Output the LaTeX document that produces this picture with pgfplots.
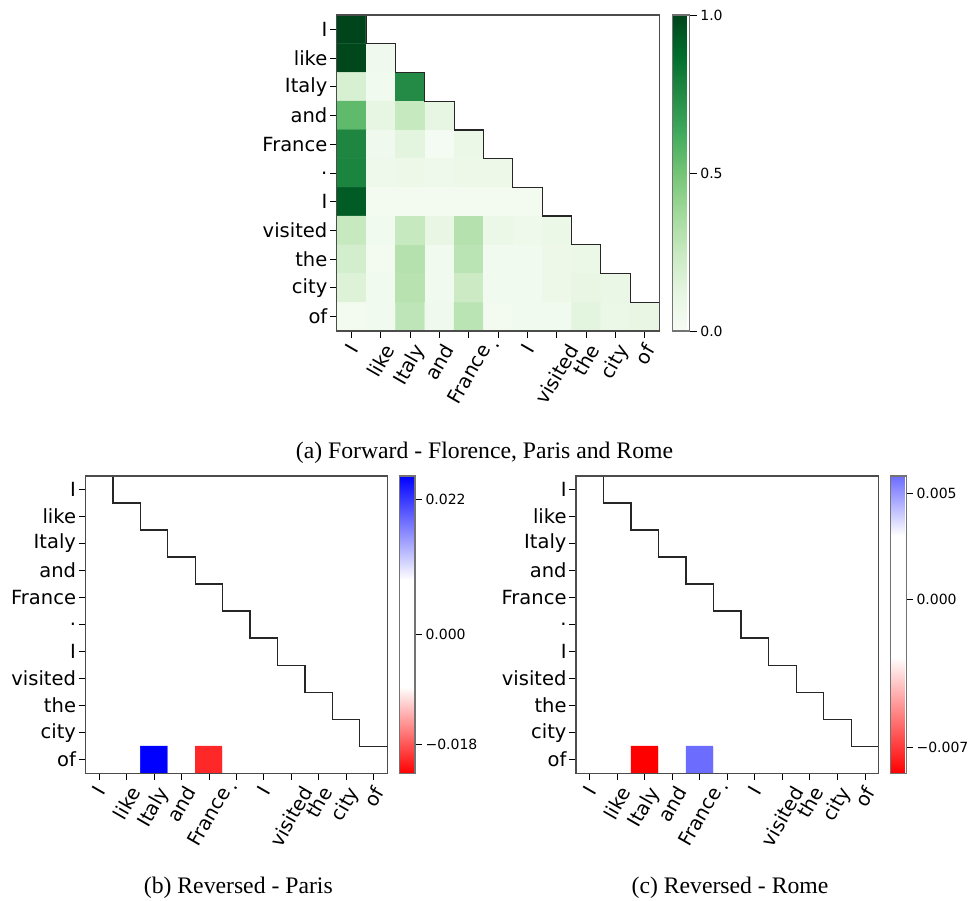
\documentclass[border=0pt]{standalone}
\usepackage{graphicx}
\usepackage{fontspec}
\setmainfont{DejaVu Sans}
\newfontfamily\capfont{Liberation Serif}
\usepackage{pgfplots}
\usepackage{pgfplotstable}
\pgfplotsset{compat=1.18}
\newcommand{\cbf}{\fontsize{14}{16}\selectfont}

\pgfplotstableread[row sep=\\]{
x y v\\
0 0 1.00\\ 1 0 0\\ 2 0 0\\ 3 0 0\\ 4 0 0\\ 5 0 0\\ 6 0 0\\ 7 0 0\\ 8 0 0\\ 9 0 0\\ 10 0 0\\
0 1 0.99\\ 1 1 0.05\\ 2 1 0\\ 3 1 0\\ 4 1 0\\ 5 1 0\\ 6 1 0\\ 7 1 0\\ 8 1 0\\ 9 1 0\\ 10 1 0\\
0 2 0.18\\ 1 2 0.04\\ 2 2 0.75\\ 3 2 0\\ 4 2 0\\ 5 2 0\\ 6 2 0\\ 7 2 0\\ 8 2 0\\ 9 2 0\\ 10 2 0\\
0 3 0.55\\ 1 3 0.11\\ 2 3 0.25\\ 3 3 0.11\\ 4 3 0\\ 5 3 0\\ 6 3 0\\ 7 3 0\\ 8 3 0\\ 9 3 0\\ 10 3 0\\
0 4 0.77\\ 1 4 0.05\\ 2 4 0.13\\ 3 4 0.02\\ 4 4 0.08\\ 5 4 0\\ 6 4 0\\ 7 4 0\\ 8 4 0\\ 9 4 0\\ 10 4 0\\
0 5 0.78\\ 1 5 0.06\\ 2 5 0.07\\ 3 5 0.06\\ 4 5 0.07\\ 5 5 0.07\\ 6 5 0\\ 7 5 0\\ 8 5 0\\ 9 5 0\\ 10 5 0\\
0 6 0.93\\ 1 6 0.03\\ 2 6 0.03\\ 3 6 0.03\\ 4 6 0.03\\ 5 6 0.03\\ 6 6 0.03\\ 7 6 0\\ 8 6 0\\ 9 6 0\\ 10 6 0\\
0 7 0.25\\ 1 7 0.04\\ 2 7 0.25\\ 3 7 0.10\\ 4 7 0.31\\ 5 7 0.08\\ 6 7 0.06\\ 7 7 0.08\\ 8 7 0\\ 9 7 0\\ 10 7 0\\
0 8 0.20\\ 1 8 0.03\\ 2 8 0.31\\ 3 8 0.04\\ 4 8 0.29\\ 5 8 0.04\\ 6 8 0.04\\ 7 8 0.07\\ 8 8 0.08\\ 9 8 0\\ 10 8 0\\
0 9 0.16\\ 1 9 0.04\\ 2 9 0.30\\ 3 9 0.04\\ 4 9 0.23\\ 5 9 0.04\\ 6 9 0.04\\ 7 9 0.07\\ 8 9 0.10\\ 9 9 0.09\\ 10 9 0\\
0 10 0.03\\ 1 10 0.04\\ 2 10 0.28\\ 3 10 0.05\\ 4 10 0.29\\ 5 10 0.03\\ 6 10 0.04\\ 7 10 0.04\\ 8 10 0.13\\ 9 10 0.08\\ 10 10 0.10\\
}\fwd

\pgfplotstableread[row sep=\\]{
x y v\\
0 0 0\\ 1 0 0\\ 2 0 0\\ 3 0 0\\ 4 0 0\\ 5 0 0\\ 6 0 0\\ 7 0 0\\ 8 0 0\\ 9 0 0\\ 10 0 0\\
0 1 0\\ 1 1 0\\ 2 1 0\\ 3 1 0\\ 4 1 0\\ 5 1 0\\ 6 1 0\\ 7 1 0\\ 8 1 0\\ 9 1 0\\ 10 1 0\\
0 2 0\\ 1 2 0\\ 2 2 0\\ 3 2 0\\ 4 2 0\\ 5 2 0\\ 6 2 0\\ 7 2 0\\ 8 2 0\\ 9 2 0\\ 10 2 0\\
0 3 0\\ 1 3 0\\ 2 3 0\\ 3 3 0\\ 4 3 0\\ 5 3 0\\ 6 3 0\\ 7 3 0\\ 8 3 0\\ 9 3 0\\ 10 3 0\\
0 4 0\\ 1 4 0\\ 2 4 0\\ 3 4 0\\ 4 4 0\\ 5 4 0\\ 6 4 0\\ 7 4 0\\ 8 4 0\\ 9 4 0\\ 10 4 0\\
0 5 0\\ 1 5 0\\ 2 5 0\\ 3 5 0\\ 4 5 0\\ 5 5 0\\ 6 5 0\\ 7 5 0\\ 8 5 0\\ 9 5 0\\ 10 5 0\\
0 6 0\\ 1 6 0\\ 2 6 0\\ 3 6 0\\ 4 6 0\\ 5 6 0\\ 6 6 0\\ 7 6 0\\ 8 6 0\\ 9 6 0\\ 10 6 0\\
0 7 0\\ 1 7 0\\ 2 7 0\\ 3 7 0\\ 4 7 0\\ 5 7 0\\ 6 7 0\\ 7 7 0\\ 8 7 0\\ 9 7 0\\ 10 7 0\\
0 8 0\\ 1 8 0\\ 2 8 0\\ 3 8 0\\ 4 8 0\\ 5 8 0\\ 6 8 0\\ 7 8 0\\ 8 8 0\\ 9 8 0\\ 10 8 0\\
0 9 0\\ 1 9 0\\ 2 9 0\\ 3 9 0\\ 4 9 0\\ 5 9 0\\ 6 9 0\\ 7 9 0\\ 8 9 0\\ 9 9 0\\ 10 9 0\\
0 10 0\\ 1 10 0\\ 2 10 0.0258\\ 3 10 0\\ 4 10 -0.0205\\ 5 10 0\\ 6 10 0\\ 7 10 0\\ 8 10 0\\ 9 10 0\\ 10 10 0\\
}\paris

\pgfplotstableread[row sep=\\]{
x y v\\
0 0 0\\ 1 0 0\\ 2 0 0\\ 3 0 0\\ 4 0 0\\ 5 0 0\\ 6 0 0\\ 7 0 0\\ 8 0 0\\ 9 0 0\\ 10 0 0\\
0 1 0\\ 1 1 0\\ 2 1 0\\ 3 1 0\\ 4 1 0\\ 5 1 0\\ 6 1 0\\ 7 1 0\\ 8 1 0\\ 9 1 0\\ 10 1 0\\
0 2 0\\ 1 2 0\\ 2 2 0\\ 3 2 0\\ 4 2 0\\ 5 2 0\\ 6 2 0\\ 7 2 0\\ 8 2 0\\ 9 2 0\\ 10 2 0\\
0 3 0\\ 1 3 0\\ 2 3 0\\ 3 3 0\\ 4 3 0\\ 5 3 0\\ 6 3 0\\ 7 3 0\\ 8 3 0\\ 9 3 0\\ 10 3 0\\
0 4 0\\ 1 4 0\\ 2 4 0\\ 3 4 0\\ 4 4 0\\ 5 4 0\\ 6 4 0\\ 7 4 0\\ 8 4 0\\ 9 4 0\\ 10 4 0\\
0 5 0\\ 1 5 0\\ 2 5 0\\ 3 5 0\\ 4 5 0\\ 5 5 0\\ 6 5 0\\ 7 5 0\\ 8 5 0\\ 9 5 0\\ 10 5 0\\
0 6 0\\ 1 6 0\\ 2 6 0\\ 3 6 0\\ 4 6 0\\ 5 6 0\\ 6 6 0\\ 7 6 0\\ 8 6 0\\ 9 6 0\\ 10 6 0\\
0 7 0\\ 1 7 0\\ 2 7 0\\ 3 7 0\\ 4 7 0\\ 5 7 0\\ 6 7 0\\ 7 7 0\\ 8 7 0\\ 9 7 0\\ 10 7 0\\
0 8 0\\ 1 8 0\\ 2 8 0\\ 3 8 0\\ 4 8 0\\ 5 8 0\\ 6 8 0\\ 7 8 0\\ 8 8 0\\ 9 8 0\\ 10 8 0\\
0 9 0\\ 1 9 0\\ 2 9 0\\ 3 9 0\\ 4 9 0\\ 5 9 0\\ 6 9 0\\ 7 9 0\\ 8 9 0\\ 9 9 0\\ 10 9 0\\
0 10 0\\ 1 10 0\\ 2 10 -0.0082\\ 3 10 0\\ 4 10 0.0058\\ 5 10 0\\ 6 10 0\\ 7 10 0\\ 8 10 0\\ 9 10 0\\ 10 10 0\\
}\rome

\pgfplotsset{
  hm/.style={
    scale only axis,
    enlargelimits=false,
    xmin=-0.5, xmax=10.5, ymin=-0.5, ymax=10.5,
    y dir=reverse,
    axis on top,
    axis line style={line width=1.1pt, draw=black!70},
    tick style={black, line width=0.9pt},
    major tick length=6.8pt,
    tick align=outside,
    xtick pos=bottom, ytick pos=left,
    xtick={0,...,10}, ytick={0,...,10},
    tick label style={font=\fontsize{19.5}{23}\selectfont},
    yticklabels={I,like,Italy,and,France,.,I,visited,the,city,of},
    xticklabels={\rotatebox{60}{I},\rotatebox{60}{like},\rotatebox{60}{Italy},\rotatebox{60}{and},\rotatebox{60}{France},\rotatebox{60}{.},\rotatebox{60}{I},\rotatebox{60}{visited},\rotatebox{60}{the},\rotatebox{60}{city},\rotatebox{60}{of}},
    xticklabel style={anchor=north, inner sep=0pt, yshift=-4.5pt},
    yticklabel style={anchor=east, inner sep=0pt, xshift=-2.5pt},
    colorbar,
  },
  cbar/.style={
    at={(parent axis.north east)}, anchor=north west,
    scale only axis,
    scaled y ticks=false,
    axis line style={line width=1.1pt, draw=black!55},
    tick style={black, line width=0.9pt},
    major tick length=6.8pt,
    tick align=outside,
    ytick pos=right,
    yticklabel pos=right,
    yticklabel style={anchor=west, inner sep=0pt, xshift=3.5pt},
  },
  stair/.style={black!85, line width=1.25pt, forget plot},
}

\begin{document}
\begin{tikzpicture}
\path[use as bounding box] (0pt,0pt) rectangle (968pt,901pt);

% (a)
\begin{axis}[hm,
  at={(336.8pt,886pt)}, anchor=north west,
  width=322.7pt, height=316pt,
  colormap={greens}{rgb255=(247,252,245) rgb255=(229,245,224) rgb255=(199,233,192) rgb255=(161,217,155) rgb255=(116,196,118) rgb255=(65,171,93) rgb255=(35,139,69) rgb255=(0,109,44) rgb255=(0,68,27)},
  point meta min=0, point meta max=1,
  colorbar style={cbar, xshift=4.5pt, width=17.3pt, height=316pt,
    ytick={0,0.5,1}, yticklabels={{\cbf 0.0},{\cbf 0.5},{\cbf 1.0}}},
]
\addplot[matrix plot*, mesh/cols=11, point meta=explicit] table[x=x, y=y, meta=v] {\fwd};
\addplot[fill=white, draw=none, forget plot] coordinates {(0.5,-0.5) (0.5,0.5) (1.5,0.5) (1.5,1.5) (2.5,1.5) (2.5,2.5) (3.5,2.5) (3.5,3.5) (4.5,3.5) (4.5,4.5) (5.5,4.5) (5.5,5.5) (6.5,5.5) (6.5,6.5) (7.5,6.5) (7.5,7.5) (8.5,7.5) (8.5,8.5) (9.5,8.5) (9.5,9.5) (10.5,9.5) (10.5,-0.5)};
\addplot[stair] coordinates {(0.5,-0.5) (0.5,0.5) (1.5,0.5) (1.5,1.5) (2.5,1.5) (2.5,2.5) (3.5,2.5) (3.5,3.5) (4.5,3.5) (4.5,4.5) (5.5,4.5) (5.5,5.5) (6.5,5.5) (6.5,6.5) (7.5,6.5) (7.5,7.5) (8.5,7.5) (8.5,8.5) (9.5,8.5) (9.5,9.5) (10.5,9.5)};
\end{axis}

% (b)
\begin{axis}[hm,
  at={(85.5pt,425pt)}, anchor=north west,
  width=301.8pt, height=297.2pt,
  colormap={parisbwr}{rgb255(0cm)=(255,0,0) rgb255(29cm)=(255,255,255) rgb255(65cm)=(255,255,255) rgb255(100cm)=(0,0,255)},
  point meta min=-0.0227, point meta max=0.0258,
  colorbar style={cbar, xshift=3.4pt, width=15.8pt, height=297.2pt,
    ytick={-0.018,0,0.022}, yticklabels={{\cbf −0.018},{\cbf 0.000},{\cbf 0.022}}},
]
\addplot[matrix plot*, mesh/cols=11, point meta=explicit] table[x=x, y=y, meta=v] {\paris};
\addplot[stair] coordinates {(0.5,-0.5) (0.5,0.5) (1.5,0.5) (1.5,1.5) (2.5,1.5) (2.5,2.5) (3.5,2.5) (3.5,3.5) (4.5,3.5) (4.5,4.5) (5.5,4.5) (5.5,5.5) (6.5,5.5) (6.5,6.5) (7.5,6.5) (7.5,7.5) (8.5,7.5) (8.5,8.5) (9.5,8.5) (9.5,9.5) (10.5,9.5)};
\end{axis}

% (c)
\begin{axis}[hm,
  at={(576pt,425pt)}, anchor=north west,
  width=302.7pt, height=297.2pt,
  colormap={romebwr}{rgb255(0cm)=(255,0,0) rgb255(39cm)=(255,255,255) rgb255(80cm)=(255,255,255) rgb255(100cm)=(108,108,255)},
  point meta min=-0.0082, point meta max=0.0058,
  colorbar style={cbar, xshift=2.8pt, width=16pt, height=297.2pt,
    ytick={-0.007,0,0.005}, yticklabels={{\cbf −0.007},{\cbf 0.000},{\cbf 0.005}}},
]
\addplot[matrix plot*, mesh/cols=11, point meta=explicit] table[x=x, y=y, meta=v] {\rome};
\addplot[stair] coordinates {(0.5,-0.5) (0.5,0.5) (1.5,0.5) (1.5,1.5) (2.5,1.5) (2.5,2.5) (3.5,2.5) (3.5,3.5) (4.5,3.5) (4.5,4.5) (5.5,4.5) (5.5,5.5) (6.5,5.5) (6.5,6.5) (7.5,6.5) (7.5,7.5) (8.5,7.5) (8.5,8.5) (9.5,8.5) (9.5,9.5) (10.5,9.5)};
\end{axis}

\node[anchor=base, font=\capfont\fontsize{23.7}{28}\selectfont, inner sep=0pt] at (484.5pt,442.5pt) {(a) Forward - Florence, Paris and Rome};
\node[anchor=base, font=\capfont\fontsize{23.7}{28}\selectfont, inner sep=0pt] at (238.3pt,7.5pt) {(b) Reversed - Paris};
\node[anchor=base, font=\capfont\fontsize{23.7}{28}\selectfont, inner sep=0pt] at (730pt,7.5pt) {(c) Reversed - Rome};
\end{tikzpicture}
\end{document}
